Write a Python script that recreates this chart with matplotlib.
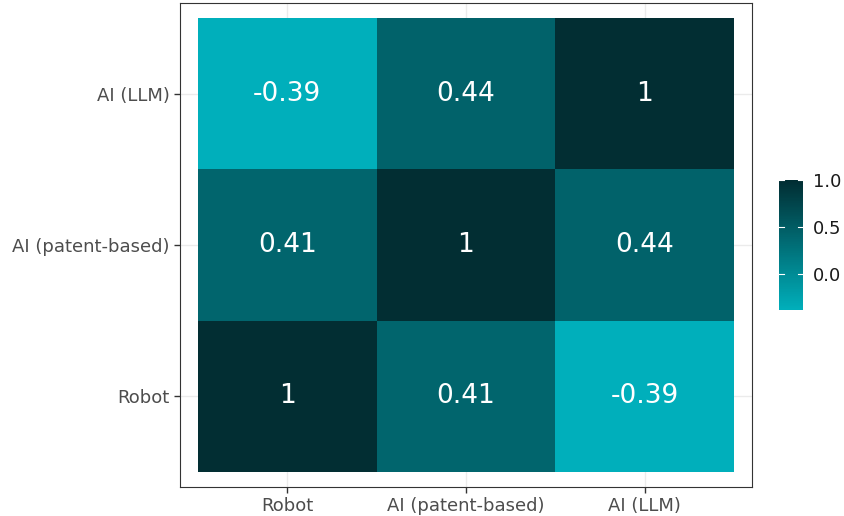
import numpy as np
import matplotlib
matplotlib.use("Agg")
import matplotlib.pyplot as plt
from matplotlib.colors import LinearSegmentedColormap, Normalize

categories = ["Robot", "AI (patent-based)", "AI (LLM)"]
# rows: y categories (bottom to top), columns: x categories
corr = np.array([
    [1.00, 0.41, -0.39],
    [0.41, 1.00, 0.44],
    [-0.39, 0.44, 1.00],
])
labels = [["1", "0.41", "-0.39"],
          ["0.41", "1", "0.44"],
          ["-0.39", "0.44", "1"]]

cmap = LinearSegmentedColormap.from_list("tealgrad", ["#00AFBB", "#022E33"])
norm = Normalize(vmin=corr.min(), vmax=corr.max())

fig = plt.figure(figsize=(8.44, 5.16), dpi=100)
ax = fig.add_axes([180/844, 29/516, 572/844, 484/516])

n = len(categories)
x = np.arange(1, n + 1)
X, Y = np.meshgrid(np.arange(0.5, n + 1), np.arange(0.5, n + 1))
for v in x:
    ax.axvline(v, color="#EBEBEB", lw=1.0, zorder=0)
    ax.axhline(v, color="#EBEBEB", lw=1.0, zorder=0)
ax.pcolormesh(X, Y, corr, cmap=cmap, norm=norm, zorder=1)
for i in range(n):
    for j in range(n):
        ax.text(j + 1, i + 1, labels[i][j], ha="center", va="center",
                color="white", fontsize=19, zorder=2)

ax.set_xlim(0.4, n + 0.6)
ax.set_ylim(0.4, n + 0.6)
ax.set_xticks(x)
ax.set_yticks(x)
ax.set_xticklabels(categories)
ax.set_yticklabels(categories)
ax.tick_params(axis="both", colors="#333333", labelcolor="#4D4D4D",
               labelsize=13, length=4, width=1)
for s in ax.spines.values():
    s.set_color("#333333")
    s.set_linewidth(0.8)

cax = fig.add_axes([779/844, (516-310)/516, 24/844, 130/516])
grad = np.linspace(corr.min(), corr.max(), 200).reshape(-1, 1)
cax.imshow(grad, aspect="auto", cmap=cmap, norm=norm, origin="lower",
           extent=[0, 1, corr.min(), corr.max()])
cax.set_xlim(0, 1)
cax.set_ylim(corr.min(), corr.max())
cax.set_xticks([])
cax.yaxis.tick_right()
cax.set_yticks([0.0, 0.5, 1.0])
cax.set_yticklabels(["0.0", "0.5", "1.0"])
cax.tick_params(axis="y", length=0, labelsize=13, labelcolor="#1A1A1A", pad=7)
for t in [0.0, 0.5, 1.0]:
    cax.plot([0, 0.2], [t, t], color="white", lw=0.8)
    cax.plot([0.8, 1], [t, t], color="white", lw=0.8)
for s in cax.spines.values():
    s.set_visible(False)

fig.savefig("out.png", dpi=100)
